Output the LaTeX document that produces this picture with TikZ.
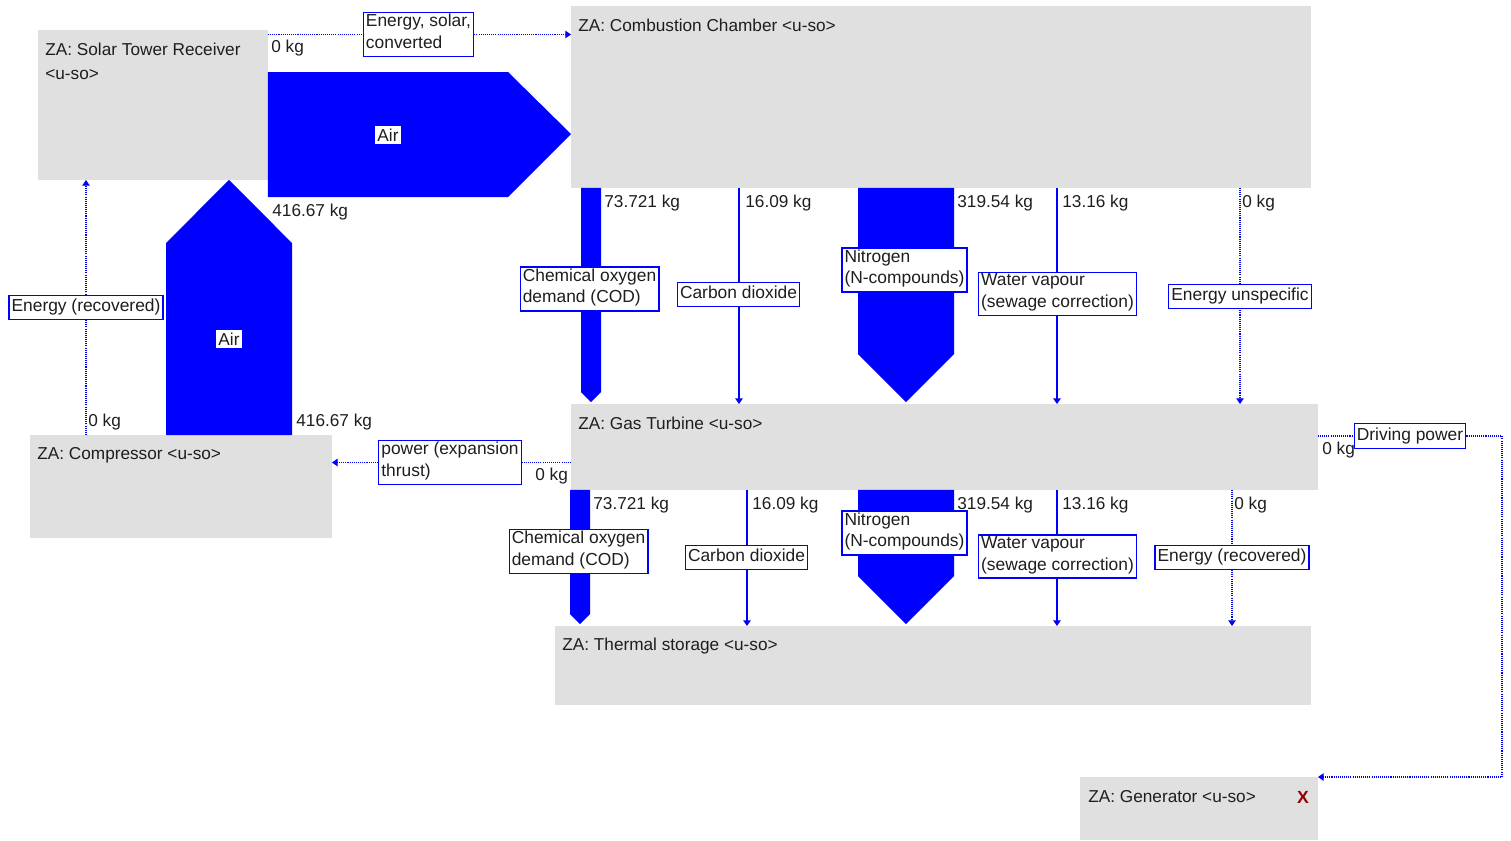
\documentclass[tikz,border=0pt]{standalone}
\usepackage{fontspec}
\setmainfont{Liberation Sans}
\usetikzlibrary{arrows.meta,calc}

\definecolor{zagray}{RGB}{224,224,224}
\definecolor{flowblue}{RGB}{0,0,255}
\definecolor{txtgray}{RGB}{30,30,30}
\definecolor{xred}{RGB}{150,0,0}

\tikzset{
  zabox/.style={fill=zagray, draw=none, inner sep=0pt, outer sep=0pt, anchor=north west},
  zatitle/.style={anchor=west, inner sep=0pt, text=txtgray, font=\fontsize{9.8}{12}\selectfont},
  flowtag/.style={draw=flowblue, line width=0.75pt, fill=white, inner xsep=1.5pt, inner ysep=0.8pt,
    execute at begin node=\strut, execute at end node=\strut,
    align=left, text=txtgray, font=\fontsize{9.9}{12.4}\selectfont},
  masstag/.style={anchor=west, inner sep=0pt, text=txtgray, font=\fontsize{9.8}{12}\selectfont},
  airtag/.style={fill=white, inner sep=1.5pt, text=txtgray, font=\fontsize{9.8}{12}\selectfont},
  flowband/.style={fill=flowblue},
  flowtip/.style={-{Triangle[length=3.2pt,width=4.2pt]}},
  thinflow/.style={draw=flowblue},
  energyflow/.style={draw=flowblue, line width=0.6pt, dash pattern=on 0.6pt off 0.6pt},
}

\begin{document}
\begin{tikzpicture}[x=0.02cm, y=-0.02cm]
    \useasboundingbox (0,0) rectangle (1511,840);

    % Draw the process boxes
    \node[zabox, minimum width=4.6cm, minimum height=3.0cm] (solar) at (38,30) {};
    \node[zabox, minimum width=14.8cm, minimum height=3.64cm] (cc) at (571,6) {};
    \node[zabox, minimum width=6.04cm, minimum height=2.06cm] (comp) at (30,435) {};
    \node[zabox, minimum width=14.94cm, minimum height=1.72cm] (gt) at (571,404) {};
    \node[zabox, minimum width=15.12cm, minimum height=1.58cm] (ts) at (555,626) {};
    \node[zabox, minimum width=4.76cm, minimum height=1.26cm] (gen) at (1080,777) {};

    % Box titles
    \node[zatitle] (solarT) at (45,49) {ZA: Solar Tower Receiver};
    \node[zatitle] (solarU) at (45,75) {<u-so>};
    \node[zatitle] (ccT) at (578,25) {ZA: Combustion Chamber <u-so>};
    \node[zatitle] (compT) at (37,455) {ZA: Compressor <u-so>};
    \node[zatitle] (gtT) at (578,423) {ZA: Gas Turbine <u-so>};
    \node[zatitle] (tsT) at (562,646) {ZA: Thermal storage <u-so>};
    \node[zatitle] (genT) at (1088,797) {ZA: Generator <u-so>};
    \node[zatitle, anchor=center, text=xred, font=\fontsize{10}{12}\selectfont\bfseries] (genX) at (1303,797) {X};

    % Air flows
    \fill[flowband] (solar.east |- 0,72) -- (508,72) -- (cc.west |- 0,134) -- (508,197) -- (solar.east |- 0,197) -- cycle;
    \fill[flowband] (166,0 |- comp.north) -- (166,243) -- (229,0 |- solar.south) -- (292,243) -- (292,0 |- comp.north) -- cycle;
    \node[airtag] (air1) at (388,135) {Air};
    \node[airtag] (air2) at (229,339) {Air};

    % Wide flows down the chain
    \foreach \src/\dst/\xl/\w in {cc/gt/581/20, cc/gt/858/96, gt/ts/570/20, gt/ts/858/96}
      \fill[flowband] (\xl,0 |- \src.south) -- ({\xl+\w},0 |- \src.south)
        -- ($({\xl+\w},0 |- \dst.north)+(0,{-2-\w/2})$)
        -- ($({\xl+\w/2},0 |- \dst.north)+(0,-2)$)
        -- ($(\xl,0 |- \dst.north)+(0,{-2-\w/2})$) -- cycle;

    % Thin flows
    \foreach \src/\dst/\x in {cc/gt/739, gt/ts/747}
      \draw[thinflow, line width=1.6pt, flowtip] (\x,0 |- \src.south) -- (\x,0 |- \dst.north);
    \foreach \src/\dst/\x in {cc/gt/1057, gt/ts/1057}
      \draw[thinflow, line width=0.8pt, flowtip] (\x,0 |- \src.south) -- (\x,0 |- \dst.north);
    \foreach \src/\dst/\x in {cc/gt/1240, gt/ts/1232}
      \draw[energyflow, flowtip] (\x,0 |- \src.south) -- (\x,0 |- \dst.north);

    % Energy connectors
    \node[flowtag] (es) at (418.5,34.5) {Energy, solar,\\converted};
    \draw[energyflow] (solar.east |- es) -- (es.west);
    \draw[energyflow, flowtip] (es.east) -- (cc.west |- es);

    \node[flowtag] (er1) at (86,307.5) {Energy (recovered)};
    \draw[energyflow] (comp.north -| er1) -- (er1.south);
    \draw[energyflow, flowtip] (er1.north) -- (solar.south -| er1);

    \node[flowtag] (pw) at (450,462.5) {power (expansion\\thrust)};
    \draw[energyflow] (gt.west |- pw) -- (pw.east);
    \draw[energyflow, flowtip] (pw.west) -- (comp.east |- pw);

    \node[flowtag] (dp) at (1410,436) {Driving power};
    \coordinate (dpturn) at (1502,436);
    \draw[energyflow] (gt.east |- dp) -- (dp.west);
    \draw[energyflow, flowtip] (dp.east) -- (dpturn) |- (gen.north east);

    % Flow labels
    \node[flowtag] (cod1) at (589.5,289) {Chemical oxygen\\demand (COD)};
    \node[flowtag] (co21) at (738.5,294.5) {Carbon dioxide};
    \node[flowtag] (n1) at (904.5,270) {Nitrogen\\(N-compounds)};
    \node[flowtag] (wv1) at (1057.5,294) {Water vapour\\(sewage correction)};
    \node[flowtag] (eu) at (1240,296.5) {Energy unspecific};
    \node[flowtag] (cod2) at (578.5,551.5) {Chemical oxygen\\demand (COD)};
    \node[flowtag] (co22) at (746.5,557.5) {Carbon dioxide};
    \node[flowtag] (n2) at (904.5,533) {Nitrogen\\(N-compounds)};
    \node[flowtag] (wv2) at (1057.5,556.5) {Water vapour\\(sewage correction)};
    \node[flowtag] (er2) at (1232,557.5) {Energy (recovered)};

    % Masses
    \foreach \x/\y/\t [count=\i] in {271/48/0 kg, 272/212/416.67 kg, 296/422/416.67 kg, 88/422/0 kg,
        535/476/0 kg, 1322/450/0 kg,
        604/203/73.721 kg, 745/203/16.09 kg, 957/203/319.54 kg, 1062/203/13.16 kg, 1242/203/0 kg,
        593/505/73.721 kg, 752/505/16.09 kg, 957/505/319.54 kg, 1062/505/13.16 kg, 1234/505/0 kg}
      \node[masstag] (mass\i) at (\x,\y) {\t};
\end{tikzpicture}
\end{document}
